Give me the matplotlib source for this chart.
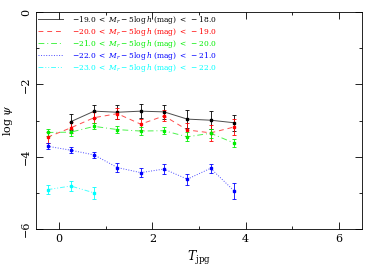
import matplotlib
matplotlib.use("Agg")
import matplotlib.pyplot as plt
from matplotlib.ticker import MultipleLocator

plt.rcParams['font.family'] = ['DejaVu Serif']
plt.rcParams['mathtext.fontset'] = 'dejavuserif'

x_all = [-0.25, 0.25, 0.75, 1.25, 1.75, 2.25, 2.75, 3.25, 3.75]

x_black = x_all[1:]
y_black = [-3.03, -2.74, -2.77, -2.74, -2.76, -2.96, -2.99, -3.06]
e_black = [0.22, 0.18, 0.20, 0.20, 0.20, 0.25, 0.25, 0.22]

x_red = x_all
y_red = [-3.46, -3.20, -2.92, -2.81, -3.10, -2.87, -3.26, -3.34, -3.18]
e_red = [0.15, 0.15, 0.15, 0.15, 0.15, 0.15, 0.18, 0.22, 0.22]

x_green = x_all
y_green = [-3.33, -3.32, -3.16, -3.25, -3.29, -3.28, -3.45, -3.35, -3.62]
e_green = [0.10, 0.10, 0.08, 0.10, 0.10, 0.10, 0.12, 0.12, 0.12]

x_blue = x_all
y_blue = [-3.71, -3.82, -3.95, -4.30, -4.44, -4.34, -4.62, -4.32, -4.94]
e_blue = [0.08, 0.08, 0.08, 0.12, 0.13, 0.13, 0.15, 0.12, 0.22]

x_cyan = x_all[:3]
y_cyan = [-4.91, -4.81, -5.00]
e_cyan = [0.13, 0.13, 0.16]

labels = [
    r'$-19.0\ <\ M_r - 5\log h$ (mag) $<\ -18.0$',
    r'$-20.0\ <\ M_r - 5\log h$ (mag) $<\ -19.0$',
    r'$-21.0\ <\ M_r - 5\log h$ (mag) $<\ -20.0$',
    r'$-22.0\ <\ M_r - 5\log h$ (mag) $<\ -21.0$',
    r'$-23.0\ <\ M_r - 5\log h$ (mag) $<\ -22.0$',
]
colors = ['#000000', '#ff0000', '#00ee00', '#0000ff', '#00ffff']
styles = ['-', (0, (5, 4)), (0, (6, 3, 1, 3)), ':', (0, (5, 2, 1, 2, 1, 2))]

fig = plt.figure(figsize=(3.74, 2.74), dpi=100)
ax = fig.add_axes([0.096, 0.164, 0.872, 0.792])

series = [(x_black, y_black, e_black), (x_red, y_red, e_red), (x_green, y_green, e_green),
          (x_blue, y_blue, e_blue), (x_cyan, y_cyan, e_cyan)]
handles = []
for (xs, ys, es), c, ls, lab in zip(series, colors, styles, labels):
    ax.errorbar(xs, ys, yerr=es, color=c, ls='none', marker='s', ms=2.0,
                capsize=1.5, elinewidth=0.6, capthick=0.6)
    h, = ax.plot(xs, ys, color=c, ls=ls, lw=0.7, alpha=0.7, label=lab)
    handles.append(h)

ax.set_xlim(-0.5, 6.5)
ax.set_ylim(-6, 0)
ax.xaxis.set_major_locator(MultipleLocator(2))
ax.xaxis.set_minor_locator(MultipleLocator(1))
ax.yaxis.set_major_locator(MultipleLocator(2))
ax.yaxis.set_minor_locator(MultipleLocator(1))
ax.tick_params(which='both', direction='in', top=True, right=True, labelsize=8, width=0.6)
ax.tick_params(which='major', length=5)
ax.tick_params(which='minor', length=2.5)
for lab in ax.get_yticklabels():
    lab.set_rotation(90)
    lab.set_va('center')
for s in ax.spines.values():
    s.set_linewidth(0.6)

ax.set_xlabel(r'$T_{\rm jpg}$', fontsize=9)
ax.set_ylabel(r'log $\psi$', fontsize=8)

leg = ax.legend(handles=handles, loc='upper left', frameon=False, fontsize=5.4,
                handlelength=3.4, handletextpad=1.2, labelspacing=0.0,
                borderaxespad=0.1, borderpad=0.15)
for t, c in zip(leg.get_texts(), colors):
    t.set_color(c)

fig.savefig('out.png', dpi=100)
